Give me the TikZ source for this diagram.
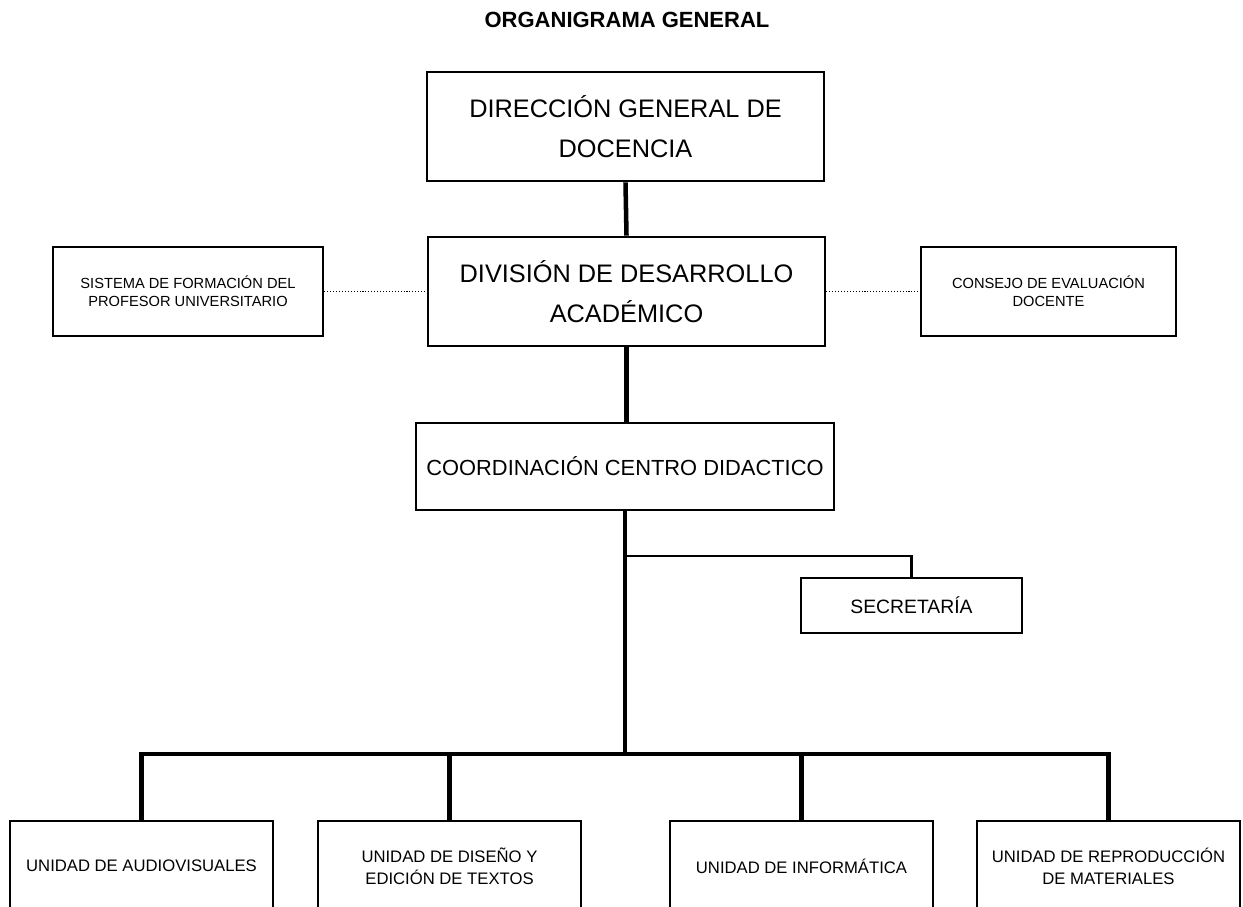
\documentclass[tikz,border=0pt]{standalone}
\usepackage{fontspec}
\setmainfont{Liberation Sans}
\begin{document}
\begin{tikzpicture}[x=0.75pt,y=-0.75pt,
  box/.style={draw=black,line width=2pt,rectangle,align=center,inner sep=0pt,text=black},
  bigtext/.style={font=\fontsize{19pt}{30pt}\selectfont},
  midtext/.style={font=\fontsize{16.4pt}{19pt}\selectfont},
  sectext/.style={font=\fontsize{14.5pt}{17pt}\selectfont},
  smalltext/.style={font=\fontsize{11pt}{13.5pt}\selectfont},
  unittext/.style={font=\fontsize{12.5pt}{16.5pt}\selectfont},
  unitbox/.style={box,unittext,minimum width=197.25pt,minimum height=67.5pt},
  mainlink/.style={line width=3.4pt},
  thinlink/.style={line width=2pt},
  dotlink/.style={line width=0.8pt,dash pattern=on 0.8pt off 1.4pt}]
\useasboundingbox (0,0) rectangle (1243,907);
\fill[white] (0,0) rectangle (1243,907);

% title
\node[font=\fontsize{16.5pt}{19pt}\selectfont\bfseries] (title) at (627,20) {ORGANIGRAMA GENERAL};

% upper hierarchy
\node[box,bigtext,minimum width=297.75pt,minimum height=81.75pt] (dir) at (625.5,126.5)
  {DIRECCIÓN GENERAL DE\\DOCENCIA};
\node[box,bigtext,minimum width=297.75pt,minimum height=81.75pt] (div) at (626.5,291.5)
  {DIVISIÓN DE DESARROLLO\\ACADÉMICO};
\node[box,smalltext,minimum width=202.5pt,minimum height=66.75pt] (sis) at (188,291.5)
  {SISTEMA DE FORMACIÓN DEL\\PROFESOR UNIVERSITARIO};
\node[box,smalltext,minimum width=191.25pt,minimum height=66.75pt] (con) at (1048.5,291.5)
  {CONSEJO DE EVALUACIÓN\\DOCENTE};
\node[box,midtext,minimum width=313.5pt,minimum height=65.25pt] (coord) at (625,466.5)
  {COORDINACIÓN CENTRO DIDACTICO};
\node[box,sectext,minimum width=165.75pt,minimum height=41.25pt] (sec) at (911.5,605.5)
  {SECRETARÍA};

% units (cut by the lower page edge)
\begin{scope}
\clip (0,0) rectangle (1243,907);
\node[unitbox] (u1) at (141.5,866) {UNIDAD DE AUDIOVISUALES};
\node[unitbox] (u2) at (449.5,866) {UNIDAD DE DISEÑO Y\\EDICIÓN DE TEXTOS};
\node[unitbox] (u3) at (801.5,866) {UNIDAD DE INFORMÁTICA};
\node[unitbox] (u4) at (1108.5,866) {UNIDAD DE REPRODUCCIÓN\\DE MATERIALES};
\end{scope}

% junction points
\coordinate (bus) at (625,754);
\coordinate (secj) at (625,556);

% connectors
\draw[mainlink] (dir.south) -- (div.north);
\draw[dotlink] (sis.east) -- (div.west);
\draw[dotlink] (div.east) -- (con.west);
\draw[mainlink] (div.south) -- (div.south |- coord.north);
\draw[mainlink] (coord.south) -- (bus);
\draw[thinlink] (secj) -| (sec.north);
\draw[mainlink,line join=miter] (u1.north) |- (bus) -| (u4.north);
\draw[mainlink] (u2.north) -- (u2.north |- bus);
\draw[mainlink] (u3.north) -- (u3.north |- bus);
\end{tikzpicture}
\end{document}
